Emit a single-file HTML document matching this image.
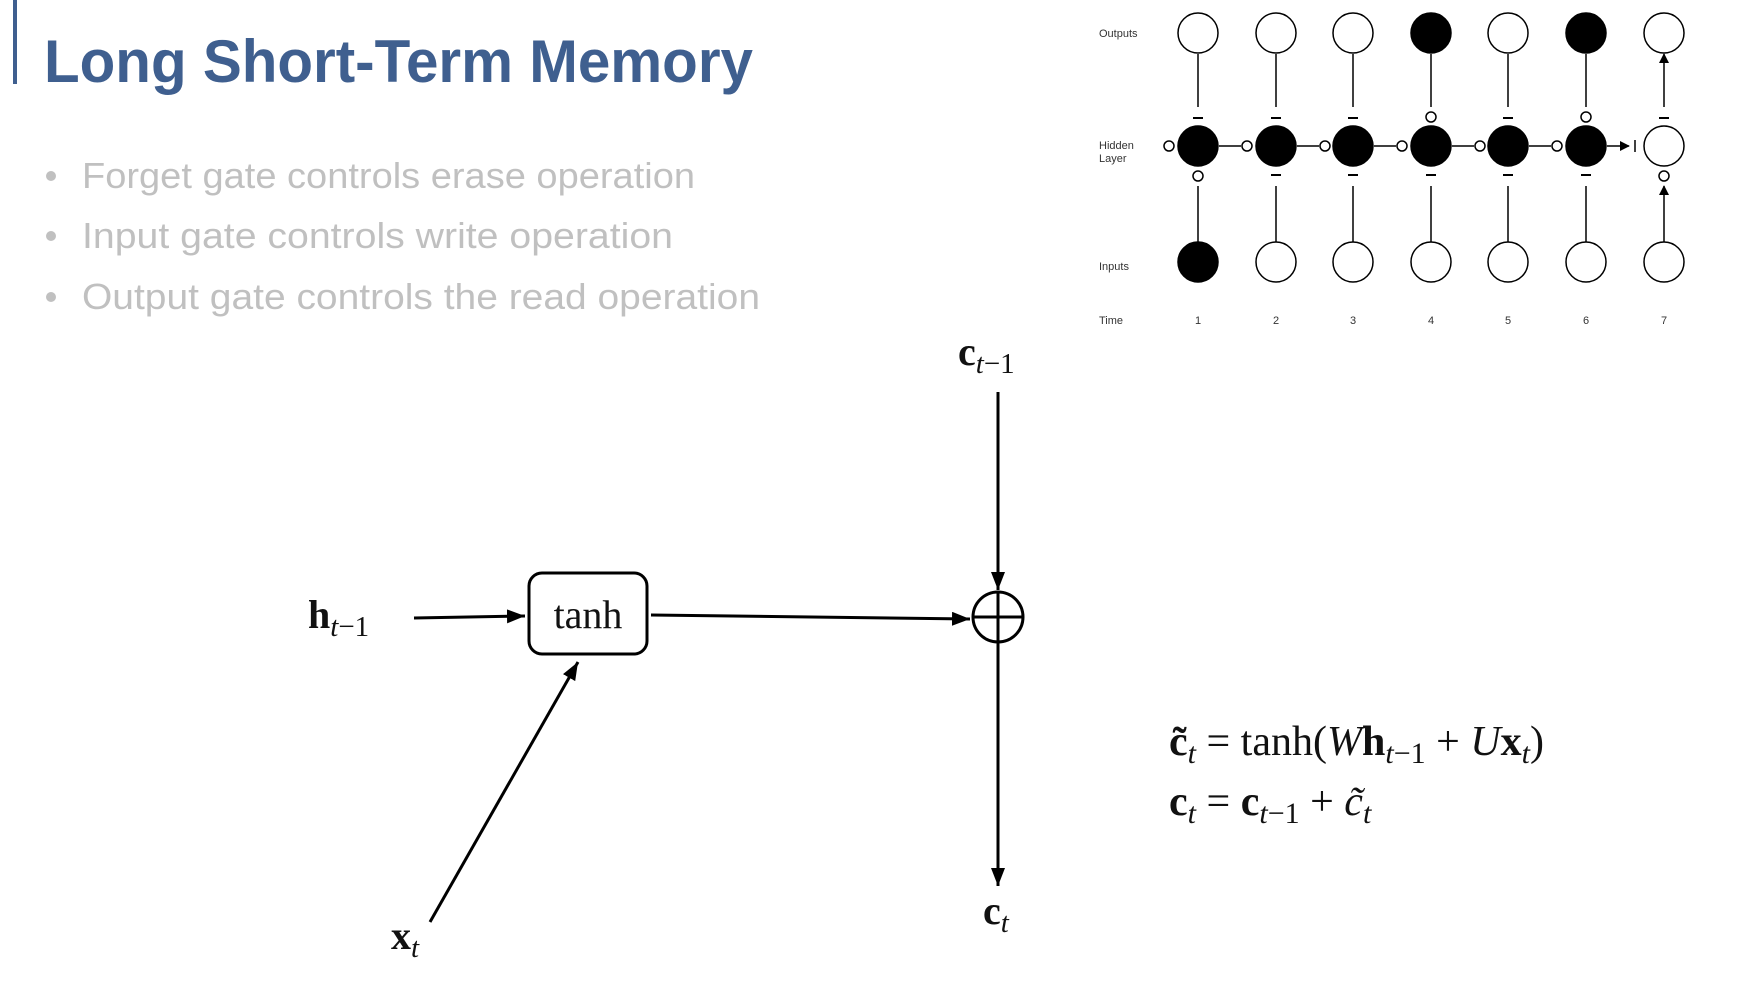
<!DOCTYPE html>
<html><head><meta charset="utf-8"><style>
html,body{margin:0;padding:0;background:#fff;}
svg{display:block;}
.s{font-family:"Liberation Serif",serif;fill:#111;}
.b{font-weight:bold;}
.i{font-style:italic;}
.sm{font-family:"Liberation Sans",sans-serif;font-size:11px;fill:#333;}
</style></head><body>
<svg width="1754" height="986" viewBox="0 0 1754 986" xmlns="http://www.w3.org/2000/svg">
<defs>
<marker id="a" markerWidth="10" markerHeight="10" refX="9" refY="5" orient="auto" markerUnits="userSpaceOnUse"><path d="M0,0 L18,5 L0,10 z" transform="scale(0.55,1)" fill="#000"/></marker>
<marker id="A" markerWidth="20" markerHeight="14" refX="18" refY="7" orient="auto" markerUnits="userSpaceOnUse"><path d="M0,0 L18,7 L0,14 z" fill="#000"/></marker>
</defs>
<rect x="13" y="0" width="4" height="84" fill="#3f5f8f"/>
<text x="44" y="82" font-family="Liberation Sans,sans-serif" font-weight="bold" font-size="60" fill="#3f5f8f" textLength="709" lengthAdjust="spacingAndGlyphs">Long Short-Term Memory</text>
<g font-family="Liberation Sans,sans-serif" font-size="36" fill="#c0c0c0">
<circle cx="51" cy="176" r="5"/><circle cx="51" cy="236" r="5"/><circle cx="51" cy="297" r="5"/>
<text x="82" y="188" textLength="613" lengthAdjust="spacingAndGlyphs">Forget gate controls erase operation</text>
<text x="82" y="248" textLength="591" lengthAdjust="spacingAndGlyphs">Input gate controls write operation</text>
<text x="82" y="309" textLength="678" lengthAdjust="spacingAndGlyphs">Output gate controls the read operation</text>
</g>
<!-- RNN diagram -->
<g stroke="#000" stroke-width="1.5" fill="none">
<circle cx="1198" cy="33" r="20"/><circle cx="1276" cy="33" r="20"/><circle cx="1353" cy="33" r="20"/><circle cx="1431" cy="33" r="20" fill="#000"/><circle cx="1508" cy="33" r="20"/><circle cx="1586" cy="33" r="20" fill="#000"/><circle cx="1664" cy="33" r="20"/>
<circle cx="1198" cy="146" r="20" fill="#000"/><circle cx="1276" cy="146" r="20" fill="#000"/><circle cx="1353" cy="146" r="20" fill="#000"/><circle cx="1431" cy="146" r="20" fill="#000"/><circle cx="1508" cy="146" r="20" fill="#000"/><circle cx="1586" cy="146" r="20" fill="#000"/><circle cx="1664" cy="146" r="20"/>
<circle cx="1198" cy="262" r="20" fill="#000"/><circle cx="1276" cy="262" r="20"/><circle cx="1353" cy="262" r="20"/><circle cx="1431" cy="262" r="20"/><circle cx="1508" cy="262" r="20"/><circle cx="1586" cy="262" r="20"/><circle cx="1664" cy="262" r="20"/>
<g marker-end="url(#a)">
<path d="M1198 107V54M1276 107V54M1353 107V54M1431 107V54M1508 107V54M1586 107V54M1664 107V54"/>
<path d="M1198 242V186M1276 242V186M1353 242V186M1431 242V186M1508 242V186M1586 242V186M1664 242V186"/>
<path d="M1219 146H1241M1297 146H1319M1374 146H1396M1452 146H1474M1529 146H1551M1607 146H1629"/>
</g>
<circle cx="1169" cy="146" r="5"/><circle cx="1247" cy="146" r="5"/><circle cx="1325" cy="146" r="5"/><circle cx="1402" cy="146" r="5"/><circle cx="1480" cy="146" r="5"/><circle cx="1557" cy="146" r="5"/>
<circle cx="1431" cy="117" r="5"/><circle cx="1586" cy="117" r="5"/>
<circle cx="1198" cy="176" r="5"/><circle cx="1664" cy="176" r="5"/>
<path d="M1635 140V152"/>
<path stroke-width="2" d="M1193 118H1203M1271 118H1281M1348 118H1358M1503 118H1513M1659 118H1669M1271 175H1281M1348 175H1358M1426 175H1436M1503 175H1513M1581 175H1591"/>
</g>
<text class="sm" x="1099" y="37">Outputs</text>
<text class="sm" x="1099" y="149">Hidden</text><text class="sm" x="1099" y="162">Layer</text>
<text class="sm" x="1099" y="270">Inputs</text>
<text class="sm" x="1099" y="324">Time</text>
<g class="sm" text-anchor="middle"><text x="1198" y="324">1</text><text x="1276" y="324">2</text><text x="1353" y="324">3</text><text x="1431" y="324">4</text><text x="1508" y="324">5</text><text x="1586" y="324">6</text><text x="1664" y="324">7</text></g>
<!-- LSTM diagram -->
<g stroke="#000" stroke-width="3" fill="none">
<rect x="529" y="573" width="118" height="81" rx="13"/>
<circle cx="998" cy="617" r="25"/>
<path d="M973 617H1023M998 592V642"/>
<path d="M998 392V590" marker-end="url(#A)"/>
<path d="M998 642V886" marker-end="url(#A)"/>
<path d="M414 618L525 616" marker-end="url(#A)"/>
<path d="M651 615L970 619" marker-end="url(#A)"/>
<path d="M430 922L578 662" marker-end="url(#A)"/>
</g>
<text class="s" x="588" y="628" font-size="40" text-anchor="middle">tanh</text>
<text class="s" x="308" y="628" font-size="40"><tspan class="b">h</tspan><tspan class="i" font-size="29" dy="8">t</tspan><tspan font-size="29">−1</tspan></text>
<text class="s" x="958" y="365" font-size="40"><tspan class="b">c</tspan><tspan class="i" font-size="29" dy="8">t</tspan><tspan font-size="29">−1</tspan></text>
<text class="s" x="983" y="924" font-size="40"><tspan class="b">c</tspan><tspan class="i" font-size="29" dy="8">t</tspan></text>
<text class="s" x="391" y="949" font-size="40"><tspan class="b">x</tspan><tspan class="i" font-size="29" dy="8">t</tspan></text>
<text class="s" x="1169" y="755" font-size="42"><tspan class="b">c̃</tspan><tspan class="i" font-size="30" dy="8">t</tspan><tspan dy="-8"> = tanh(</tspan><tspan class="i">W</tspan><tspan class="b">h</tspan><tspan class="i" font-size="30" dy="8">t</tspan><tspan font-size="30">−1</tspan><tspan dy="-8"> + </tspan><tspan class="i">U</tspan><tspan class="b">x</tspan><tspan class="i" font-size="30" dy="8">t</tspan><tspan dy="-8">)</tspan></text>
<text class="s" x="1169" y="815" font-size="42"><tspan class="b">c</tspan><tspan class="i" font-size="30" dy="8">t</tspan><tspan dy="-8"> = </tspan><tspan class="b">c</tspan><tspan class="i" font-size="30" dy="8">t</tspan><tspan font-size="30">−1</tspan><tspan dy="-8"> + </tspan><tspan class="i">c̃</tspan><tspan class="i" font-size="30" dy="8">t</tspan></text>
</svg>
</body></html>
